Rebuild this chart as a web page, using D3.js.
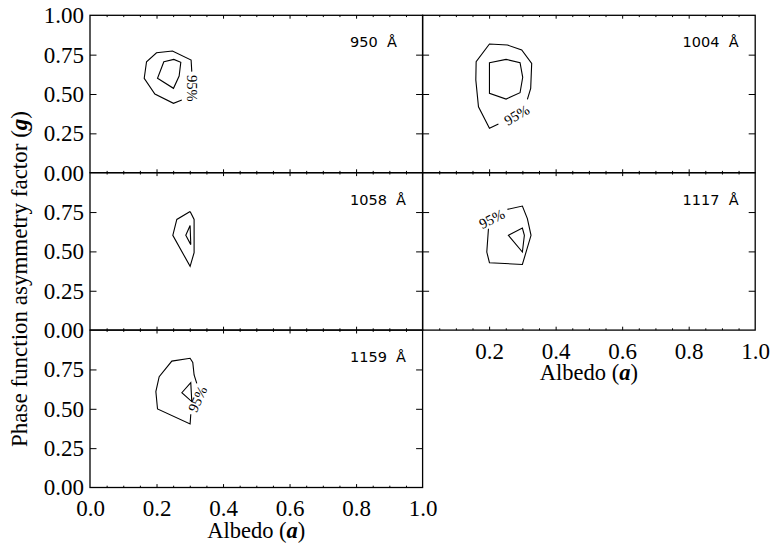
<!DOCTYPE html>
<html>
<head>
<meta charset="utf-8">
<script src="https://cdn.jsdelivr.net/npm/d3@7"></script>
<style>
  body { margin: 0; background: #fff; }
  svg { display: block; }
</style>
</head>
<body>
<div id="chart"></div>
<script>
const width = 771;
const height = 544;

// wavelength of each panel, in reading order
const wavelengths = ["950", "1004", "1058", "1117", "1159"];

// outer (95%) contours, [albedo, g], gaps left where the label sits
const outerContours = [
  [[0.276, 0.462], [0.251, 0.441], [0.195, 0.5], [0.163, 0.6], [0.17, 0.705],
   [0.2, 0.762], [0.248, 0.773], [0.304, 0.716], [0.306, 0.642]],
  [[0.315, 0.466], [0.325, 0.536], [0.328, 0.695], [0.298, 0.78], [0.255, 0.811],
   [0.201, 0.818], [0.161, 0.705], [0.16, 0.589], [0.168, 0.419], [0.201, 0.282],
   [0.228, 0.309]],
  [[0.301, 0.754], [0.313, 0.703], [0.313, 0.492], [0.301, 0.405], [0.249, 0.602],
   [0.261, 0.703], [0.301, 0.754]],
  [[0.198, 0.644], [0.193, 0.496], [0.201, 0.428], [0.3, 0.417], [0.326, 0.602],
   [0.315, 0.708], [0.3, 0.788], [0.255, 0.767]],
  [[0.303, 0.465], [0.301, 0.404], [0.203, 0.499], [0.198, 0.609], [0.208, 0.704],
   [0.246, 0.803], [0.301, 0.821], [0.309, 0.795], [0.313, 0.715], [0.321, 0.662]]
];

// inner contours (closed)
const innerContours = [
  [[0.222, 0.705], [0.252, 0.72], [0.273, 0.701], [0.268, 0.614], [0.251, 0.536], [0.203, 0.6]],
  [[0.201, 0.699], [0.251, 0.72], [0.293, 0.699], [0.301, 0.606], [0.293, 0.508], [0.251, 0.468], [0.201, 0.504]],
  [[0.301, 0.665], [0.303, 0.543], [0.288, 0.602]],
  [[0.258, 0.602], [0.3, 0.648], [0.306, 0.602], [0.3, 0.496]],
  [[0.276, 0.602], [0.303, 0.666], [0.306, 0.546]]
];

// where "95%" is written on each outer contour, and its tilt
const labelPoints = [[0.306, 0.536], [0.283, 0.367], null, [0.208, 0.708], [0.323, 0.562]];
const labelAngles = [90, -30, 0, -27, -65];

const xMajor = [0, 0.2, 0.4, 0.6, 0.8, 1.0];
const xMinor = d3.range(1, 20).map(i => i * 0.05).filter(v => Math.abs(v * 5 - Math.round(v * 5)) > 1e-6);
const yMajor = [0, 0.25, 0.5, 0.75, 1.0];

// layout
const plotLeft = 90, plotTop = 15.3, panelW = 332.6, panelH = 157.4;
const serif = "'Liberation Serif', 'Times New Roman', serif";
const tickFont = 23, titleFont = 22.5;

const svg = d3.select("#chart").append("svg")
  .attr("width", width)
  .attr("height", height);

wavelengths.forEach((wl, i) => {
  const col = i % 2, row = Math.floor(i / 2);
  const x0 = plotLeft + col * panelW, y0 = plotTop + row * panelH;
  const x = d3.scaleLinear().domain([0, 1]).range([x0, x0 + panelW]);
  const y = d3.scaleLinear().domain([0, 1]).range([y0 + panelH, y0]);
  const g = svg.append("g");

  const isBottom = (i === 3 || i === 4);

  // tick marks, all pointing inward
  const tickAxes = [
    [d3.axisBottom(x).tickValues(xMajor.slice(1, -1)).tickSize(-3.4), `translate(0,${y(0)})`],
    [d3.axisBottom(x).tickValues(xMinor).tickSize(-1.8), `translate(0,${y(0)})`],
    [d3.axisTop(x).tickValues(xMajor.slice(1, -1)).tickSize(-3.4), `translate(0,${y(1)})`],
    [d3.axisTop(x).tickValues(xMinor).tickSize(-1.8), `translate(0,${y(1)})`],
    [d3.axisLeft(y).tickValues(yMajor.slice(1, -1)).tickSize(-6.5), `translate(${x(0)},0)`],
    [d3.axisRight(y).tickValues(yMajor.slice(1, -1)).tickSize(-6.5), `translate(${x(1)},0)`]
  ];
  tickAxes.forEach(([ax, tr]) => {
    const a = g.append("g").attr("transform", tr).call(ax.tickFormat("").tickSizeOuter(0));
    a.select(".domain").remove();
    a.selectAll("line").attr("stroke", "#000").attr("stroke-width", 1);
  });

  // frame
  g.append("rect")
    .attr("x", x(0)).attr("y", y(1))
    .attr("width", x(1) - x(0)).attr("height", y(0) - y(1))
    .attr("fill", "none").attr("stroke", "#000").attr("stroke-width", 1.3);

  // y tick labels on the left column
  if (col === 0) {
    const vals = row === 0 ? yMajor : yMajor.slice(0, -1);
    const a = g.append("g").attr("transform", `translate(${x(0)},0)`)
      .call(d3.axisLeft(y).tickValues(vals).tickSize(0).tickPadding(6).tickFormat(d3.format(".2f")));
    a.select(".domain").remove();
    a.attr("font-family", serif).attr("font-size", tickFont);
    a.selectAll("text").style("font-family", serif).style("font-size", tickFont + "px").attr("fill", "#000");
  }

  // x tick labels and title under the lowest panel of each column
  if (isBottom) {
    const vals = col === 0 ? xMajor : xMajor.slice(1);
    const a = g.append("g").attr("transform", `translate(0,${y(0)})`)
      .call(d3.axisBottom(x).tickValues(vals).tickSize(0).tickPadding(12.5).tickFormat(d3.format(".1f")));
    a.select(".domain").remove();
    a.attr("font-family", serif).attr("font-size", tickFont);
    a.selectAll("text").style("font-family", serif).style("font-size", tickFont + "px").attr("fill", "#000");

    const t = g.append("text")
      .attr("x", x(0.5)).attr("y", y(0) + 50)
      .attr("text-anchor", "middle")
      .style("font-family", serif).style("font-size", titleFont + "px");
    t.append("tspan").text("Albedo (");
    t.append("tspan").attr("font-weight", "bold").attr("font-style", "italic").text("a");
    t.append("tspan").text(")");
  }

  // wavelength tag
  g.append("text")
    .attr("x", x0 + 260).attr("y", y0 + 31.8)
    .attr("font-family", "'DejaVu Sans', sans-serif")
    .attr("font-size", 14.5)
    .style("white-space", "pre")
    .text(wl + "  \u00c5");

  // contours
  const line = d3.line().x(d => x(d[0])).y(d => y(d[1]));
  g.append("path").attr("d", line(outerContours[i]))
    .attr("fill", "none").attr("stroke", "#000").attr("stroke-width", 1.1);
  g.append("path").attr("d", line(innerContours[i]) + "Z")
    .attr("fill", "none").attr("stroke", "#000").attr("stroke-width", 1.1);

  if (labelPoints[i]) {
    const [la, lg] = labelPoints[i];
    g.append("text")
      .attr("transform", `translate(${x(la)},${y(lg)}) rotate(${labelAngles[i]})`)
      .attr("text-anchor", "middle")
      .attr("dy", "0.35em")
      .style("font-family", serif)
      .style("font-size", "14.5px")
      .text("95%");
  }
});

// shared y title
const yt = svg.append("text")
  .attr("transform", `translate(26.5,279) rotate(-90)`)
  .attr("text-anchor", "middle")
  .style("font-family", serif)
  .style("font-size", "23px");
yt.append("tspan").text("Phase function asymmetry factor (");
yt.append("tspan").attr("font-weight", "bold").attr("font-style", "italic").text("g");
yt.append("tspan").text(")");
</script>
</body>
</html>
